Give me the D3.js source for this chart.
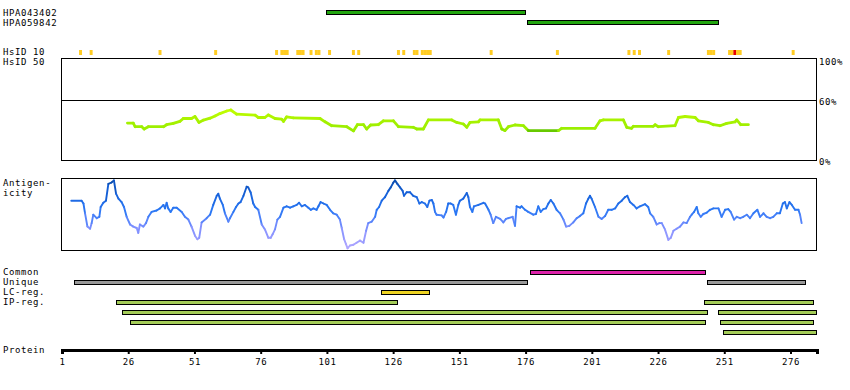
<!DOCTYPE html>
<html>
<head>
<meta charset="utf-8">
<script src="https://cdn.jsdelivr.net/npm/d3@7"></script>
<style>
  body { margin: 0; background: #fff; }
  svg text { font-family: "DejaVu Sans Mono", monospace; font-size: 9px; letter-spacing: 0.6px; fill: #000; }
</style>
</head>
<body>
<script>
// protein length and ruler ticks
var proteinLength = 286;
var axisTicks = [1, 26, 51, 76, 101, 126, 151, 176, 201, 226, 251, 276];

// antibodies (antigen regions)
var antibodyNames = ['HPA043402', 'HPA059842'];
var antibodyStart = [101, 177];
var antibodyEnd = [175, 248];

// HsID 10 hits (residue numbers), red = stronger hit
var hsid10Res = [8, 12, 38, 59, 82, 84, 85, 86, 90, 91, 92, 95, 97, 98, 102, 111, 113, 128, 130,
  134, 135, 137, 138, 139, 140, 163, 188, 215, 217, 219, 230, 245, 246, 247, 253, 254, 255, 256, 257, 277];
var hsid10Red = [255];

// HsID 50 identity (%), [residue, percent]
var identityLabels = ['100%', '60%', '0%'];
var identityLevels = [100, 60, 0];
var identity = [[25.7,36.9],[27.9,36.9],[28.6,33.3],[31.1,33.3],[32.0,31.0],[33.6,33.3],[39.3,33.3],[40.5,35.3],
  [43.0,36.6],[45.5,38.6],[46.8,41.5],[49.9,41.5],[51.2,43.5],[52.7,37.6],[54.4,39.9],[56.9,41.8],[58.8,44.1],
  [60.6,46.4],[63.2,49.0],[64.7,50.0],[66.9,45.8],[73.9,44.8],[75.1,42.5],[77.6,42.5],[78.9,45.1],[81.4,41.5],
  [83.9,40.8],[84.6,38.6],[85.8,43.1],[88.3,42.2],[98.4,41.5],[100.3,38.2],[102.8,34.3],[108.5,33.3],[111.0,29.1],
  [112.5,35.3],[114.8,35.3],[116.0,31.0],[117.5,35.0],[120.4,35.3],[122.3,39.2],[126.1,39.2],[128.0,33.3],
  [133.6,32.7],[134.9,31.0],[137.4,31.0],[139.3,40.1],[148.1,40.1],[150.0,37.6],[152.5,36.0],[153.8,32.7],
  [155.0,37.6],[158.2,38.2],[158.8,40.1],[165.7,40.1],[167.0,31.0],[168.2,29.4],[169.5,33.3],[172.0,35.0],
  [175.2,34.3],[177.0,29.4],[188.4,29.4],[189.6,31.7],[202.2,31.7],[204.1,39.2],[205.4,40.1],[212.9,40.1],
  [214.2,32.7],[216.0,31.7],[216.7,33.7],[224.2,33.7],[224.9,35.3],[226.1,33.3],[232.4,34.3],[233.7,42.5],
  [236.2,43.5],[240.0,42.5],[241.2,39.2],[245.0,37.6],[246.9,35.3],[249.4,34.3],[251.9,36.6],[255.1,38.2],
  [255.7,40.1],[257.2,35.3],[260.1,35.3]];

// antigenicity score (0..1), [residue, score]
var antigenicity = [[4.5,0.69],[8.4,0.69],[9.1,0.65],[9.7,0.51],[10.6,0.32],[11.6,0.29],[12.2,0.37],[12.8,0.49],
  [14.1,0.44],[15.1,0.46],[15.6,0.60],[16.6,0.66],[17.6,0.69],[18.5,0.93],[19.7,0.95],[20.6,0.98],[21.4,0.79],
  [22.3,0.72],[23.5,0.67],[24.4,0.60],[25.4,0.46],[26.7,0.35],[27.9,0.32],[29.2,0.30],[29.8,0.23],[30.4,0.35],
  [31.7,0.32],[32.7,0.37],[33.6,0.46],[34.8,0.53],[36.7,0.55],[38.0,0.58],[39.3,0.63],[39.9,0.58],[40.5,0.66],
  [41.1,0.58],[42.0,0.53],[43.0,0.59],[44.3,0.59],[46.2,0.53],[47.4,0.46],[48.7,0.42],[49.9,0.32],[51.2,0.19],
  [52.1,0.14],[52.8,0.16],[53.7,0.38],[55.6,0.44],[56.9,0.49],[58.1,0.63],[59.4,0.76],[60.0,0.79],[60.6,0.72],
  [61.7,0.63],[62.5,0.51],[63.8,0.39],[64.4,0.44],[65.7,0.53],[66.7,0.60],[67.6,0.65],[68.4,0.67],[69.5,0.76],
  [70.7,0.89],[71.3,0.88],[72.2,0.81],[73.2,0.65],[73.9,0.60],[75.1,0.56],[76.4,0.35],[77.6,0.28],[78.9,0.16],
  [79.8,0.16],[80.5,0.21],[81.4,0.28],[82.3,0.42],[83.3,0.46],[84.6,0.59],[85.8,0.61],[87.1,0.59],[88.3,0.61],
  [89.6,0.63],[90.5,0.66],[91.5,0.61],[92.7,0.63],[94.0,0.59],[94.9,0.56],[95.9,0.58],[97.1,0.56],[97.8,0.61],
  [98.6,0.67],[99.7,0.65],[100.9,0.63],[102.2,0.56],[103.4,0.51],[104.7,0.49],[105.9,0.42],[106.6,0.30],
  [107.5,0.14],[108.2,0.07],[108.8,0.01],[109.7,0.05],[111.0,0.06],[112.2,0.09],[113.5,0.12],[114.8,0.09],
  [115.8,0.26],[116.6,0.37],[117.9,0.39],[119.2,0.46],[119.8,0.56],[120.7,0.60],[121.7,0.69],[122.9,0.74],
  [124.2,0.83],[125.1,0.88],[126.1,0.95],[126.7,0.98],[127.6,0.93],[128.6,0.88],[129.6,0.83],[130.1,0.76],
  [131.1,0.81],[132.4,0.81],[133.6,0.76],[134.9,0.74],[135.9,0.65],[136.8,0.67],[138.0,0.65],[138.9,0.60],
  [139.7,0.69],[140.6,0.70],[141.2,0.65],[141.8,0.53],[142.4,0.49],[144.3,0.48],[145.0,0.45],[146.0,0.53],
  [146.8,0.65],[147.7,0.65],[148.7,0.63],[149.7,0.49],[150.6,0.63],[151.2,0.69],[152.5,0.72],[153.8,0.80],
  [154.4,0.74],[155.0,0.60],[155.9,0.53],[156.5,0.61],[158.2,0.63],[160.1,0.66],[160.7,0.65],[162.0,0.56],
  [162.8,0.49],[163.8,0.37],[164.8,0.46],[166.4,0.43],[167.6,0.38],[168.6,0.43],[169.5,0.44],[171.1,0.46],
  [172.0,0.33],[172.6,0.61],[173.9,0.59],[174.5,0.61],[175.8,0.56],[177.0,0.53],[178.9,0.49],[179.9,0.50],
  [180.8,0.61],[181.7,0.53],[182.7,0.57],[183.7,0.58],[184.6,0.65],[185.5,0.70],[186.5,0.65],[187.7,0.56],
  [189.0,0.51],[190.3,0.42],[191.3,0.32],[192.5,0.33],[194.0,0.38],[195.3,0.44],[196.5,0.47],[197.8,0.51],
  [198.8,0.65],[199.7,0.72],[200.3,0.76],[200.9,0.72],[202.2,0.60],[203.5,0.46],[204.7,0.43],[206.0,0.47],
  [207.2,0.56],[208.5,0.56],[209.8,0.58],[211.0,0.65],[212.3,0.69],[213.5,0.74],[214.4,0.76],[215.4,0.67],
  [216.7,0.63],[217.9,0.58],[219.2,0.61],[221.1,0.64],[222.3,0.60],[223.0,0.51],[224.2,0.46],[225.5,0.35],
  [226.5,0.37],[227.4,0.37],[228.6,0.28],[229.9,0.13],[230.8,0.16],[231.8,0.26],[233.0,0.29],[234.3,0.32],
  [235.6,0.38],[236.8,0.37],[238.1,0.46],[238.7,0.49],[239.6,0.53],[240.6,0.60],[241.2,0.51],[242.1,0.46],
  [243.1,0.50],[244.4,0.52],[245.6,0.56],[246.9,0.58],[248.8,0.58],[250.0,0.46],[251.3,0.56],[252.5,0.57],
  [253.4,0.53],[254.7,0.42],[255.7,0.46],[257.0,0.44],[258.2,0.46],[259.5,0.49],[260.7,0.44],[262.0,0.51],
  [263.5,0.56],[264.5,0.46],[265.8,0.51],[267.0,0.46],[268.3,0.44],[269.5,0.46],[270.8,0.51],[272.0,0.51],
  [273.1,0.65],[273.9,0.67],[274.6,0.58],[275.6,0.67],[276.5,0.63],[277.7,0.56],[279.0,0.56],[279.6,0.49],
  [280.2,0.37]];

// bottom tracks: [start, end]; IP regions also carry their track row
var commonRegions = [[178, 243]];
var uniqueRegions = [[6, 176], [245, 281]];
var lcRegions = [[122, 139]];
var ipRegions = [[22, 127, 0], [244, 284, 0], [24, 244, 1], [249, 285, 1], [27, 243, 2], [250, 284, 2], [251, 285, 3]];
var trackLabels = ['Common', 'Unique', 'LC-reg.', 'IP-reg.'];

// ---- layout ----
var svg_width = 850;
var svg_height = 390;
var svg = d3.select('body').append('svg')
  .attr('width', svg_width)
  .attr('height', svg_height);

var x = d3.scaleLinear().domain([1, proteinLength]).range([62, 817]);
var bar_h = 4;

// helper: outlined bar covering residues start..end
var drawBar = function(start, end, y, fill) {
  svg.append('rect')
    .attr('x', Math.round(x(start - 0.5)) + 0.5)
    .attr('y', y)
    .attr('width', Math.round(x(end + 0.5) - x(start - 0.5)))
    .attr('height', bar_h)
    .attr('fill', fill)
    .attr('stroke', '#000')
    .attr('stroke-width', 1);
};

var label = function(txt, lx, ly) {
  svg.append('text').attr('x', lx).attr('y', ly).text(txt);
};

// antibodies
antibodyNames.forEach(function(name, i) {
  label(name, 3, 16 + i * 10);
  drawBar(antibodyStart[i], antibodyEnd[i], 10.5 + i * 10, '#22a50f');
});

// HsID 10 row
label('HsID 10', 3, 55);
svg.selectAll('rect.hsid10')
  .data(hsid10Res)
  .enter()
  .append('rect')
  .attr('class', 'hsid10')
  .attr('x', function(d) { return x(d - 0.56); })
  .attr('y', 50)
  .attr('width', function(d) { return x(d + 0.56) - x(d - 0.56); })
  .attr('height', 5)
  .attr('fill', function(d) { return hsid10Red.indexOf(d) >= 0 ? '#e80000' : '#ffcc22'; });

// HsID 50 identity plot
label('HsID 50', 3, 65);
var yId = d3.scaleLinear().domain([0, 100]).range([160, 60]);
svg.append('rect')
  .attr('x', 61.5).attr('y', 58.5)
  .attr('width', 755).attr('height', 102)
  .attr('fill', 'none').attr('stroke', '#000');
svg.append('line')
  .attr('x1', 61.5).attr('x2', 816.5)
  .attr('y1', Math.round(yId(60)) + 0.5).attr('y2', Math.round(yId(60)) + 0.5)
  .attr('stroke', '#000');
identityLabels.forEach(function(t, i) {
  label(t, 819, yId(identityLevels[i]) + 4.5);
});

var idColor = d3.scaleLinear().domain([29, 30.5, 40, 50]).range(['#55bb00', '#99ee00', '#a8f200', '#c2ff00']).clamp(true);
for (var i = 0; i < identity.length - 1; i++) {
  var a = identity[i], b = identity[i + 1];
  svg.append('line')
    .attr('x1', x(a[0])).attr('y1', yId(a[1]))
    .attr('x2', x(b[0])).attr('y2', yId(b[1]))
    .attr('stroke', idColor((a[1] + b[1]) / 2))
    .attr('stroke-width', 2.8)
    .attr('stroke-linecap', 'round');
}

// antigenicity plot
label('Antigen-', 3, 186);
label('icity', 3, 196);
var yAg = d3.scaleLinear().domain([0, 1]).range([249, 179]);
svg.append('rect')
  .attr('x', 61.5).attr('y', 178.5)
  .attr('width', 755).attr('height', 72)
  .attr('fill', 'none').attr('stroke', '#000');

var agColor = d3.scaleLinear().domain([0, 0.3, 0.55, 0.8, 1]).range(['#b4a8ff', '#8090ff', '#2b78f5', '#1560d8', '#0a4aa8']);
for (var j = 0; j < antigenicity.length - 1; j++) {
  var p = antigenicity[j], q = antigenicity[j + 1];
  svg.append('line')
    .attr('x1', x(p[0])).attr('y1', yAg(p[1]))
    .attr('x2', x(q[0])).attr('y2', yAg(q[1]))
    .attr('stroke', agColor((p[1] + q[1]) / 2))
    .attr('stroke-width', 1.9)
    .attr('stroke-linecap', 'round');
}

// bottom tracks
trackLabels.forEach(function(t, i) { label(t, 3, 275 + i * 10); });
var row_y = function(r) { return 270.5 + r * 10; };
commonRegions.forEach(function(d) { drawBar(d[0], d[1], row_y(0), '#dd22aa'); });
uniqueRegions.forEach(function(d) { drawBar(d[0], d[1], row_y(1), '#999999'); });
lcRegions.forEach(function(d) { drawBar(d[0], d[1], row_y(2), '#eed322'); });
ipRegions.forEach(function(d) { drawBar(d[0], d[1], row_y(3 + d[2]), '#a4cc58'); });

// protein ruler
label('Protein', 3, 353);
var axis = svg.append('g')
  .attr('transform', 'translate(0,350)')
  .call(d3.axisBottom(x).tickValues(axisTicks).tickSize(4).tickSizeOuter(4).tickPadding(5));
axis.select('.domain').attr('stroke-width', 3);
axis.selectAll('.tick line').attr('stroke-width', 2);
axis.selectAll('text')
  .style('font-family', '"DejaVu Sans Mono", monospace')
  .style('font-size', '9px')
  .attr('fill', '#000');
</script>
</body>
</html>
